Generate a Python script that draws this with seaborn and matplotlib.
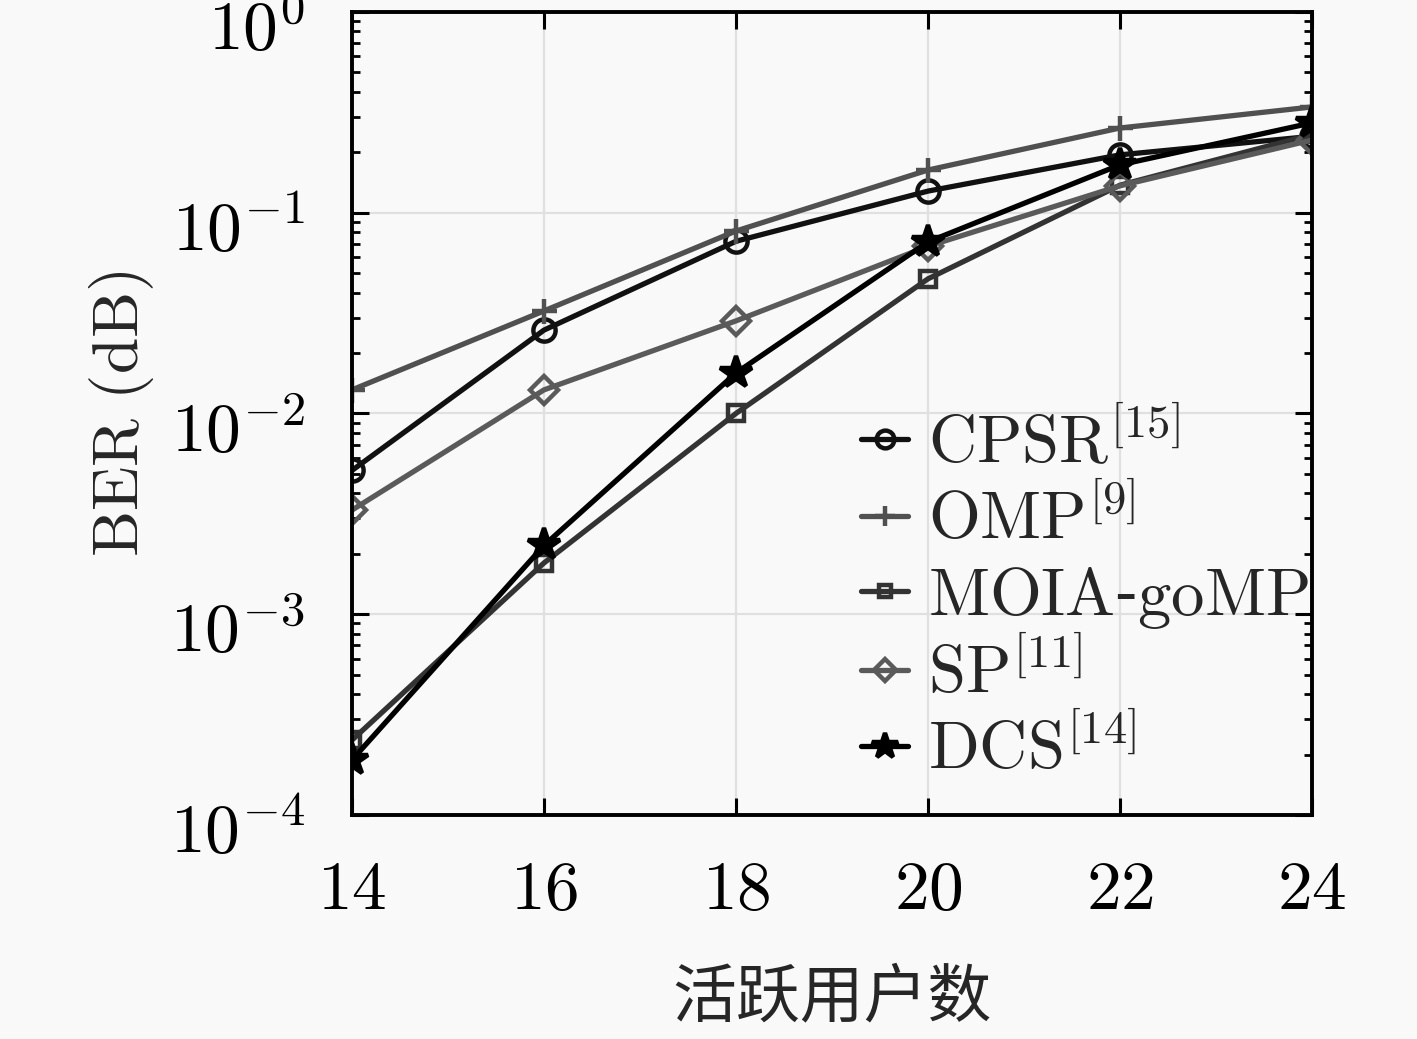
import numpy as np
import pandas as pd
import matplotlib
matplotlib.use('Agg')
import matplotlib.pyplot as plt
import matplotlib.ticker as mticker
import matplotlib.transforms as mtrans
import seaborn as sns

"""
    BER vs number of active users, log-scale curves for 5 algorithms
"""

users = [14, 16, 18, 20, 22, 24]
ber_cpsr = [5.2e-3, 0.026, 0.072, 0.128, 0.194, 0.24]
ber_omp = [0.0131, 0.0324, 0.081, 0.163, 0.264, 0.336]
ber_moia = [2.36e-4, 1.8e-3, 0.0100, 0.0468, 0.137, 0.245]
ber_sp = [3.3e-3, 0.0131, 0.0289, 0.068, 0.136, 0.23]
ber_dcs = [1.88e-4, 2.2e-3, 0.0159, 0.0715, 0.173, 0.28]

labels = [r'$\mathrm{CPSR}^{[15]}$', r'$\mathrm{OMP}^{[9]}$', r'$\mathrm{MOIA}$-$\mathrm{goMP}$',
          r'$\mathrm{SP}^{[11]}$', r'$\mathrm{DCS}^{[14]}$']
series = [ber_cpsr, ber_omp, ber_moia, ber_sp, ber_dcs]

# style per curve: marker, color, size, filled
styles = [('o', '#111111', 16, False),
          ('+', '#505050', 18, False),
          ('s', '#333333', 11, False),
          ('D', '#5a5a5a', 14, False),
          ('*', '#000000', 24, True)]

sns.set_style('ticks')
plt.rcParams['mathtext.fontset'] = 'cm'
plt.rcParams['font.family'] = ['DejaVu Serif']
bg = '#f9f9f9'

fig = plt.figure(figsize=(14.17, 10.39), dpi=100, facecolor=bg)
ax = fig.add_axes([0.2484, 0.2156, 0.6775, 0.773])
ax.set_facecolor(bg)

for vals, lab, (mk, col, ms, filled) in zip(series, labels, styles):
    sns.lineplot(x=users, y=vals, ax=ax, label=lab, color=col, linewidth=3.8,
                 marker=mk, markersize=ms, markeredgewidth=3.2,
                 markerfacecolor=col if filled else 'none', markeredgecolor=col)

ax.set_yscale('log')
ax.set_xlim(14, 24)
ax.set_ylim(1e-4, 1)
ax.set_xticks([14, 16, 18, 20, 22, 24])
ax.xaxis.set_major_formatter(mticker.FuncFormatter(lambda v, p: r'$%d$' % v))
ax.set_yticks([1e-4, 1e-3, 1e-2, 1e-1, 1e0])
ax.yaxis.set_major_formatter(mticker.FuncFormatter(lambda v, p: r'$10^{%d}$' % round(np.log10(v))))
ax.yaxis.set_minor_locator(mticker.LogLocator(base=10, subs=np.arange(2, 10)))
ax.yaxis.set_minor_formatter(mticker.NullFormatter())

ax.grid(True, which='major', color='#e0e0e0', lw=1.6)
ax.set_axisbelow(True)
ax.tick_params(which='both', direction='in', top=True, right=True, colors='black')
ax.tick_params(which='major', length=12, width=2.2, labelsize=50)
ax.tick_params(which='minor', length=6, width=2.0)
ax.tick_params(axis='x', which='major', pad=30)
ax.tick_params(axis='y', which='major', pad=34)
for sp in ax.spines.values():
    sp.set_linewidth(2.8)
    sp.set_color('black')

# shift y tick labels down a bit like the original
offset = mtrans.ScaledTranslation(0, -12 / 100, fig.dpi_scale_trans)
for lbl in ax.get_yticklabels():
    lbl.set_transform(lbl.get_transform() + offset)

ax.set_ylabel(r'$\mathrm{BER\ (dB)}$', fontsize=47, labelpad=10)
ax.set_xlabel('活跃用户数', fontsize=46, family=['Noto Sans CJK SC', 'DejaVu Sans'], labelpad=30)

leg = ax.legend(loc='upper left', bbox_to_anchor=(0.482, 0.562), frameon=False,
                fontsize=48, handlelength=0.7, handletextpad=0.3, labelspacing=0.16,
                borderpad=0.2, markerscale=0.8)

plt.savefig('out.png', dpi=100, facecolor=bg)
